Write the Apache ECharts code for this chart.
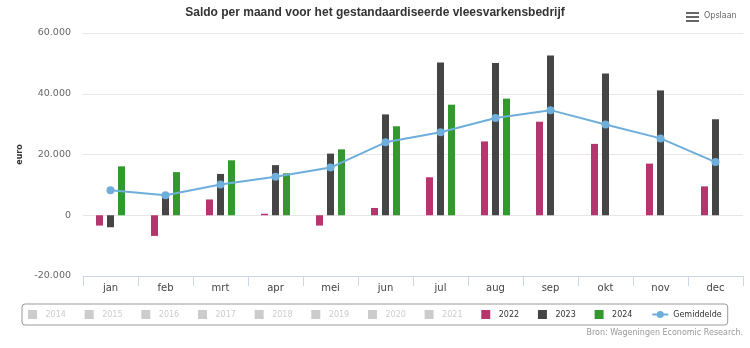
<!DOCTYPE html>
<html><head><meta charset="utf-8">
<script src="https://cdn.jsdelivr.net/npm/echarts@6/dist/echarts.min.js"></script>
<style>html,body{margin:0;padding:0;background:#fff}#c{width:750px;height:348px}</style>
</head><body><div id="c"></div>
<script>
var months = ['jan','feb','mrt','apr','mei','jun','jul','aug','sep','okt','nov','dec'];
var hiddenYears = ['2014','2015','2016','2017','2018','2019','2020','2021'];
var s2022 = [-3400,-6800,5200,500,-3400,2400,12500,24300,30800,23500,17000,9500];
var s2023 = [-3950,6800,13600,16500,20300,33200,50300,50100,52600,46700,41100,31600];
var s2024 = [16100,14200,18100,13800,21700,29300,36400,38400,null,null,null,null];
var gemiddelde = [8200,6600,10100,12700,15700,24000,27300,32000,34600,29900,25300,17500];
var yTicks = {min:-20000, max:60000, interval:20000};

var chart = echarts.init(document.getElementById('c'), null, {renderer:'canvas'});
var sq = 'path://M0,0h10v10h-10z';
var series = [];
var legendData = [];
var selected = {};
hiddenYears.forEach(function(y){
  series.push({name:y, type:'bar', data:[], barWidth:7, barGap:'57%', itemStyle:{color:'#cccccc'}});
  legendData.push({name:y, icon:sq});
  selected[y] = false;
});
series.push({name:'2022', type:'bar', data:s2022, barWidth:7, barGap:'57%', itemStyle:{color:'#b7356f'}});
series.push({name:'2023', type:'bar', data:s2023, barWidth:7, barGap:'57%', itemStyle:{color:'#454545'}});
series.push({name:'2024', type:'bar', data:s2024, barWidth:7, barGap:'57%', itemStyle:{color:'#33992f'}});
series.push({name:'Gemiddelde', type:'line', data:gemiddelde, symbol:'circle', symbolSize:8,
  lineStyle:{color:'#6eaedb', width:2}, itemStyle:{color:'#6eaedb'}, z:5});
legendData.push({name:'2022', icon:sq},{name:'2023', icon:sq},{name:'2024', icon:sq},{name:'Gemiddelde'});

chart.setOption({
  animation:false,
  title:{text:'Saldo per maand voor het gestandaardiseerde vleesvarkensbedrijf', left:'center', top:2,
    textStyle:{fontFamily:'Liberation Sans, sans-serif', fontWeight:'bold', fontSize:12, color:'#333'}},
  grid:{left:83, right:7, top:33, bottom:72},
  legend:{data:legendData, selected:selected, left:22, top:304, orient:'horizontal',
    itemWidth:16, itemHeight:9, itemGap:18.8, padding:[6,6,6,6],
    borderColor:'#999', borderWidth:1, borderRadius:3,
    inactiveColor:'#cccccc', selectedMode:true,
    textStyle:{fontFamily:'DejaVu Sans', fontSize:8, color:'#333', padding:[0,0,0,0]}},
  xAxis:{type:'category', data:months, boundaryGap:true,
    axisLine:{onZero:false, lineStyle:{color:'#ccd6eb'}},
    axisTick:{show:true, length:10, lineStyle:{color:'#ccd6eb'}},
    axisLabel:{fontFamily:'DejaVu Sans', fontSize:10, color:'#444', margin:7}},
  yAxis:{type:'value', min:yTicks.min, max:yTicks.max, interval:yTicks.interval,
    name:'euro', nameLocation:'middle', nameGap:52, nameRotate:90,
    nameTextStyle:{fontFamily:'DejaVu Sans', fontSize:8, fontWeight:'bold', color:'#333'},
    axisLine:{show:false}, axisTick:{show:false},
    splitLine:{lineStyle:{color:'#e6e6e6'}},
    axisLabel:{fontFamily:'DejaVu Sans', fontSize:9.5, color:'#666', margin:12,
      formatter:function(v){ var s=Math.abs(v).toString().replace(/\B(?=(\d{3})+(?!\d))/g,'.'); return (v<0?'-':'')+s; }}},
  series:series,
  graphic:[
    {type:'rect', shape:{x:686,y:12,width:13,height:2}, style:{fill:'#666'}},
    {type:'rect', shape:{x:686,y:16,width:13,height:2}, style:{fill:'#666'}},
    {type:'rect', shape:{x:686,y:20,width:13,height:2}, style:{fill:'#666'}},
    {type:'text', left:704, top:12, style:{text:'Opslaan', fontFamily:'DejaVu Sans', fontSize:8, fill:'#666'}},
    {type:'text', right:7, top:329, style:{text:'Bron: Wageningen Economic Research.', fontFamily:'DejaVu Sans', fontSize:8, fill:'#999'}}
  ]
});
</script></body></html>
